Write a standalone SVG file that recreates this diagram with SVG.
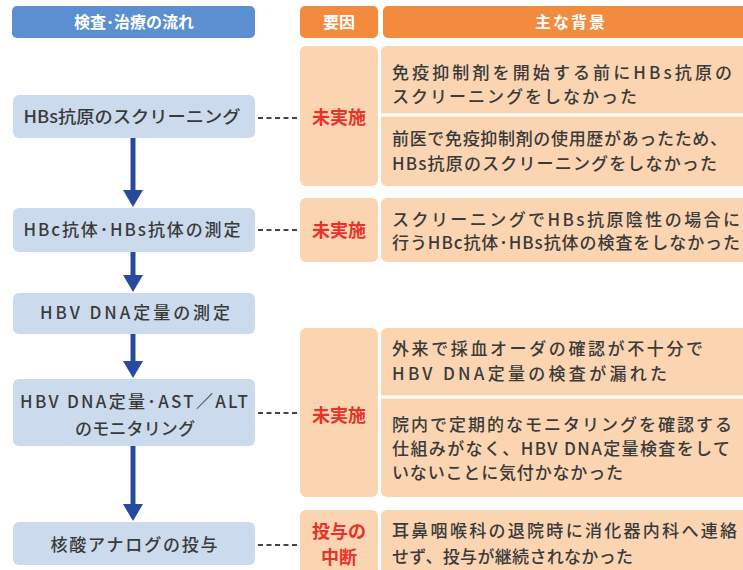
<svg xmlns="http://www.w3.org/2000/svg" width="743" height="570" viewBox="0 0 743 570">
<defs>
<marker id="ah" markerUnits="userSpaceOnUse" markerWidth="18" markerHeight="20" refX="0" refY="10" orient="auto">
<path d="M0,0 L17,10 L0,20 z" fill="#284a9c"/>
</marker>
<style>
text{font-family:"Noto Sans CJK JP","Noto Sans",sans-serif}
.hb{fill:#5b8fd1}
.ho{fill:#f28b3d}
.ht{fill:#fff;font-size:16px;font-weight:bold;text-anchor:middle}
.node{fill:#cbdaed}
.nt{fill:#3a3a3a;font-size:17px;font-weight:500;text-anchor:middle}
.cell{fill:#fbd5b2}
.red{fill:#e73329;font-size:18px;font-weight:bold;text-anchor:middle}
.bt{fill:#3a3a3a;font-size:17px;font-weight:500}
.dash{stroke:#444;stroke-width:2;stroke-dasharray:5,3.5;fill:none}
.arr{stroke:#284a9c;stroke-width:5;fill:none}
.div{stroke:#fff;stroke-width:3}
</style>
</defs>
<rect width="743" height="570" fill="#fff"/>

<g id="headers">
<rect class="hb" x="12" y="6" width="243" height="32" rx="5"/>
<text class="ht" x="134" y="28">検査･治療の流れ</text>
<rect class="ho" x="300" y="6" width="78" height="32" rx="5"/>
<text class="ht" x="339" y="28">要因</text>
<rect class="ho" x="383" y="6" width="380" height="32" rx="5"/>
<text class="ht" x="571" y="28" letter-spacing="2">主な背景</text>
</g>

<g id="node1">
<rect class="node" x="13" y="95" width="242" height="43" rx="6"/>
<text class="nt" x="132" y="123" textLength="217" lengthAdjust="spacingAndGlyphs">HBs抗原のスクリーニング</text>
</g>
<g id="node2">
<rect class="node" x="13" y="208" width="242" height="44" rx="6"/>
<text class="nt" x="132" y="236" textLength="217" lengthAdjust="spacing">HBc抗体･HBs抗体の測定</text>
</g>
<g id="node3">
<rect class="node" x="13" y="293" width="242" height="41" rx="6"/>
<text class="nt" x="135" y="319" textLength="190" lengthAdjust="spacing">HBV DNA定量の測定</text>
</g>
<g id="node4">
<rect class="node" x="13" y="379" width="242" height="67" rx="6"/>
<text class="nt" x="134" y="408" textLength="228" lengthAdjust="spacing">HBV DNA定量･AST／ALT</text>
<text class="nt" x="135" y="435" textLength="120" lengthAdjust="spacing">のモニタリング</text>
</g>
<g id="node5">
<rect class="node" x="13" y="522" width="242" height="43" rx="6"/>
<text class="nt" x="134" y="551" textLength="167" lengthAdjust="spacing">核酸アナログの投与</text>
</g>

<g id="reason1">
<rect class="cell" x="300" y="46" width="78" height="140" rx="6"/>
<rect class="cell" x="381" y="46" width="380" height="140" rx="6"/>
<line class="div" x1="381" y1="115" x2="743" y2="115"/>
<text class="red" x="339" y="124">未実施</text>
<text class="bt" x="392" y="79" textLength="340" lengthAdjust="spacing">免疫抑制剤を開始する前にHBs抗原の</text>
<text class="bt" x="392" y="103" textLength="245" lengthAdjust="spacing">スクリーニングをしなかった</text>
<text class="bt" x="392" y="145" textLength="335" lengthAdjust="spacing">前医で免疫抑制剤の使用歴があったため、</text>
<text class="bt" x="392" y="170" textLength="325" lengthAdjust="spacing">HBs抗原のスクリーニングをしなかった</text>
</g>

<g id="reason2">
<rect class="cell" x="300" y="198" width="78" height="64" rx="6"/>
<rect class="cell" x="381" y="198" width="380" height="64" rx="6"/>
<text class="red" x="339" y="237">未実施</text>
<text class="bt" x="392" y="226" textLength="348" lengthAdjust="spacing">スクリーニングでHBs抗原陰性の場合に</text>
<text class="bt" x="392" y="249" textLength="348" lengthAdjust="spacing">行うHBc抗体･HBs抗体の検査をしなかった</text>
</g>

<g id="reason3">
<rect class="cell" x="300" y="328" width="78" height="169" rx="6"/>
<rect class="cell" x="381" y="328" width="380" height="169" rx="6"/>
<line class="div" x1="381" y1="397" x2="743" y2="397"/>
<text class="red" x="339" y="422">未実施</text>
<text class="bt" x="392" y="355" textLength="311" lengthAdjust="spacing">外来で採血オーダの確認が不十分で</text>
<text class="bt" x="392" y="380" textLength="275" lengthAdjust="spacing">HBV DNA定量の検査が漏れた</text>
<text class="bt" x="392" y="431" textLength="340" lengthAdjust="spacing">院内で定期的なモニタリングを確認する</text>
<text class="bt" x="392" y="455" textLength="338" lengthAdjust="spacing">仕組みがなく、HBV DNA定量検査をして</text>
<text class="bt" x="392" y="479" textLength="231" lengthAdjust="spacing">いないことに気付かなかった</text>
</g>

<g id="reason4">
<rect class="cell" x="300" y="510" width="78" height="80" rx="6"/>
<rect class="cell" x="381" y="510" width="380" height="80" rx="6"/>
<text class="red" x="339" y="538">投与の</text>
<text class="red" x="339" y="564">中断</text>
<text class="bt" x="392" y="537" textLength="345" lengthAdjust="spacing">耳鼻咽喉科の退院時に消化器内科へ連絡</text>
<text class="bt" x="392" y="563" textLength="241" lengthAdjust="spacing">せず、投与が継続されなかった</text>
</g>

<g id="connectors">
<line class="arr" x1="133" y1="138" x2="133" y2="190" marker-end="url(#ah)"/>
<line class="arr" x1="133" y1="252" x2="133" y2="275" marker-end="url(#ah)"/>
<line class="arr" x1="133" y1="334" x2="133" y2="361" marker-end="url(#ah)"/>
<line class="arr" x1="133" y1="446" x2="133" y2="504" marker-end="url(#ah)"/>
<line class="dash" x1="258" y1="118" x2="299" y2="118"/>
<line class="dash" x1="258" y1="230" x2="299" y2="230"/>
<line class="dash" x1="258" y1="413" x2="299" y2="413"/>
<line class="dash" x1="258" y1="545" x2="299" y2="545"/>
</g>
</svg>
